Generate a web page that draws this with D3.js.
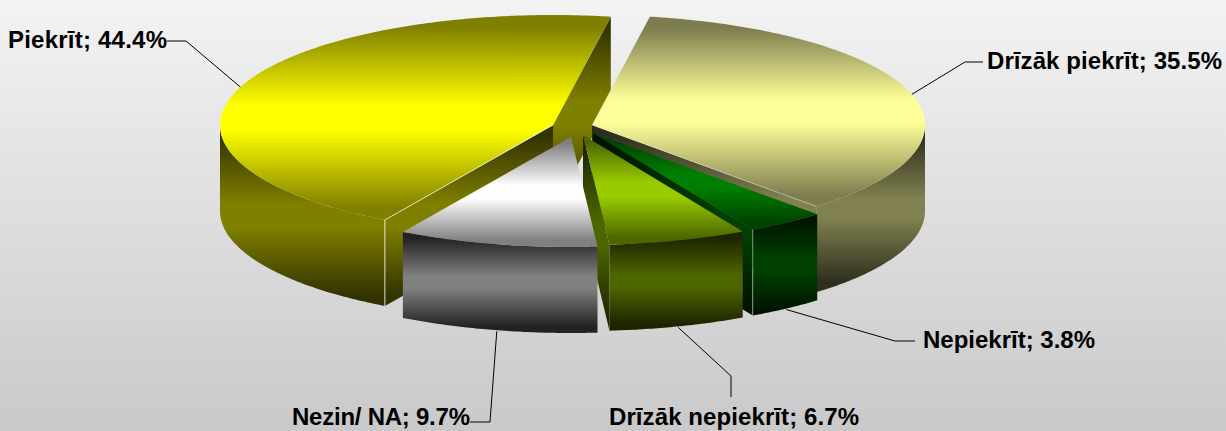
<!DOCTYPE html>
<html>
<head>
<meta charset="utf-8">
<script src="https://cdnjs.cloudflare.com/ajax/libs/d3/7.8.5/d3.min.js"></script>
<style>
html,body{margin:0;padding:0;background:#ccc;overflow:hidden}
svg{display:block}
text{font-family:"Liberation Sans",Arial,sans-serif;font-weight:700;font-size:24px;fill:#000}
</style>
</head>
<body>
<svg id="chart" width="1226" height="431"></svg>
<script>
// ---- data ----
const categories = ["Drīzāk piekrīt", "Nepiekrīt", "Drīzāk nepiekrīt", "Nezin/ NA", "Piekrīt"];
const values = [35.5, 3.8, 6.7, 9.7, 44.4];

// ---- look and layout ----
const W = 1226, H = 431;
const rx = 333, ry = 110, depth = 86;
const firstAngle = 10 * Math.PI / 180;
const apexX = [592, 593, 583, 571, 553];
const apexY = [125, 133, 135, 137, 125];
const topMid  = ["#ffff99", "#008000", "#99cc00", "#ffffff", "#ffff00"];
const topEdge = ["#7d7d4f", "#004000", "#4d6600", "#808080", "#808000"];
const sideMid = ["#808050", "#004000", "#4d6600", "#808080", "#808000"];
const sideEdge= ["#2e2e1e", "#001500", "#1c2400", "#222222", "#333300"];
const labelX = [987, 923, 609, 292, 8];
const labelY = [69, 348, 425, 425, 48];
const labelW = [235, 172, 250, 178, 159];
const elbowX = [965, 895, 731, 490, 186];
const elbowY = [62, 341, 376, 422, 41];
const endX   = [983, 915, 731, 470, 167];
const endY   = [62, 341, 397, 422, 41];
const edgeGlow = [0.35, 0, 0, 0, 0.7];
const postGlow = [0, 0.45, 0, 0, 0.8];

const svg = d3.select("#chart");
const defs = svg.append("defs");

function grad(id, edge, mid) {
  const g = defs.append("linearGradient").attr("id", id)
    .attr("x1", 0).attr("y1", 0).attr("x2", 0).attr("y2", 1);
  [[0, edge], [6, edge], [44, mid], [56, mid], [94, edge], [100, edge]].forEach(([o, c]) => {
    g.append("stop").attr("offset", o + "%").attr("stop-color", c);
  });
  return `url(#${id})`;
}

const bg = defs.append("linearGradient").attr("id", "bg")
  .attr("x1", 0).attr("y1", 0).attr("x2", 0).attr("y2", 1);
bg.append("stop").attr("offset", "0%").attr("stop-color", "#f3f3f3");
bg.append("stop").attr("offset", "100%").attr("stop-color", "#c9c9c9");
svg.append("rect").attr("width", W).attr("height", H).attr("fill", "url(#bg)");

const pie = d3.pie().sort(null)
  .startAngle(firstAngle).endAngle(firstAngle + 2 * Math.PI);
const arcs = pie(values);

const px = (i, a) => apexX[i] + rx * Math.sin(a);
const py = (i, a) => apexY[i] - ry * Math.cos(a);
const line = d3.line();

function samples(a0, a1) {
  const n = Math.max(2, Math.ceil((a1 - a0) / 0.01));
  return d3.range(n + 1).map(k => a0 + (a1 - a0) * k / n);
}

// painter's order: back slice first
const order = [4, 0, 1, 2, 3];

order.forEach(i => {
  const a0 = arcs[i].startAngle, a1 = arcs[i].endAngle;
  const g = svg.append("g").attr("class", "slice");
  const ax = apexX[i], ay = apexY[i];

  const wall = (a, id) => {
    const ex = px(i, a), ey = py(i, a);
    g.append("path")
      .attr("d", line([[ax, ay], [ex, ey], [ex, ey + depth], [ax, ay + depth]]) + "Z")
      .attr("fill", grad(id, sideEdge[i], sideMid[i]));
  };
  if (Math.sin(a0) < 0) wall(a0, `ws${i}`);
  if (Math.sin(a1) > 0) wall(a1, `we${i}`);

  // outer rim, only where it faces the viewer (quarter to three-quarter turn)
  [[Math.PI / 2, 3 * Math.PI / 2], [2.5 * Math.PI, 3.5 * Math.PI]].forEach(([lo, hi], k) => {
    const s = Math.max(a0, lo), e = Math.min(a1, hi);
    if (e <= s) return;
    const pts = samples(s, e);
    const upper = pts.map(a => [px(i, a), py(i, a)]);
    const lower = pts.slice().reverse().map(a => [px(i, a), py(i, a) + depth]);
    g.append("path").attr("d", line(upper.concat(lower)) + "Z")
      .attr("fill", grad(`r${i}${k}`, sideEdge[i], sideMid[i]));
  });

  // top face
  const topPts = [[ax, ay]].concat(samples(a0, a1).map(a => [px(i, a), py(i, a)]));
  g.append("path").attr("d", line(topPts) + "Z")
    .attr("fill", grad(`t${i}`, topEdge[i], topMid[i]));

  // thin light edges
  const hlA = i === 4 ? a0 : a1;
  if (edgeGlow[i] > 0) {
    g.append("path")
      .attr("d", line([[ax, ay], [px(i, hlA), py(i, hlA)]]))
      .attr("stroke", "#fff").attr("stroke-opacity", edgeGlow[i]).attr("fill", "none");
  }
  if (postGlow[i] > 0) {
    const gx = px(i, hlA), gy = py(i, hlA);
    g.append("path")
      .attr("d", line([[gx, gy], [gx, gy + depth]]))
      .attr("stroke", "#fff").attr("stroke-opacity", postGlow[i]).attr("fill", "none");
  }
});

// leader lines and labels
arcs.forEach((d, i) => {
  const mid = (d.startAngle + d.endAngle) / 2;
  const front = Math.cos(mid) < 0;
  const sx = px(i, mid), sy = py(i, mid) + (front ? depth + 1 : 0);
  svg.append("path")
    .attr("d", line([[sx, sy], [elbowX[i], elbowY[i]], [endX[i], endY[i]]]))
    .attr("fill", "none").attr("stroke", "#000").attr("stroke-width", 1);
  svg.append("text")
    .attr("x", labelX[i]).attr("y", labelY[i])
    .attr("textLength", labelW[i]).attr("lengthAdjust", "spacing")
    .text(`${categories[i]}; ${values[i]}%`);
});
</script>
</body>
</html>
